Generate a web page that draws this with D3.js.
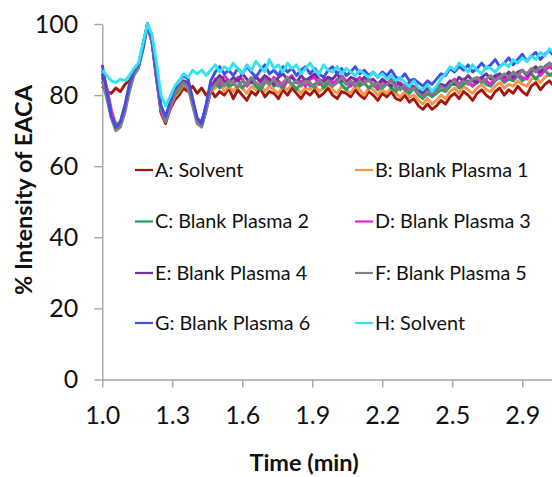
<!DOCTYPE html>
<html>
<head>
<meta charset="utf-8">
<script src="https://d3js.org/d3.v7.min.js"></script>
<style>
body { margin: 0; background: #fff; }
svg text { font-family: Lato, "Open Sans", sans-serif; fill: #111; }
.axis path, .axis line { stroke: #a6a6a6; stroke-width: 1.4; }
.axis text { font-size: 25px; }
.title { font-weight: bold; font-size: 23.5px; }
.legend text { font-size: 19.8px; }
</style>
</head>
<body>
<div id="chart"></div>
<script>
// sample times (min)
var times = [
  1.00, 1.02, 1.04, 1.06, 1.08, 1.10, 1.12, 1.14, 1.16, 1.18,
  1.20, 1.22, 1.24, 1.26, 1.28, 1.30, 1.32, 1.34, 1.36, 1.38,
  1.40, 1.42, 1.44, 1.46, 1.48, 1.50, 1.52, 1.54, 1.56, 1.58,
  1.60, 1.62, 1.64, 1.66, 1.68, 1.70, 1.72, 1.74, 1.76, 1.78,
  1.80, 1.82, 1.84, 1.86, 1.88, 1.90, 1.92, 1.94, 1.96, 1.98,
  2.00, 2.02, 2.04, 2.06, 2.08, 2.10, 2.12, 2.14, 2.16, 2.18,
  2.20, 2.22, 2.24, 2.26, 2.28, 2.30, 2.32, 2.34, 2.36, 2.38,
  2.40, 2.42, 2.44, 2.46, 2.48, 2.50, 2.52, 2.54, 2.56, 2.58,
  2.60, 2.62, 2.64, 2.66, 2.68, 2.70, 2.72, 2.74, 2.76, 2.78,
  2.80, 2.82, 2.84, 2.86, 2.88, 2.90, 2.92, 2.94, 2.96, 2.98,
  3.00
];

// x tick positions (category ticks) and their printed labels
var tickTimes = [1.0, 1.31, 1.62, 1.93, 2.24, 2.55, 2.86];
var tickLabels = ["1.0", "1.3", "1.6", "1.9", "2.2", "2.5", "2.9"];
var yTicks = [0, 20, 40, 60, 80, 100];

var seriesNames = ["A: Solvent", "B: Blank Plasma 1", "C: Blank Plasma 2", "D: Blank Plasma 3",
                   "E: Blank Plasma 4", "F: Blank Plasma 5", "G: Blank Plasma 6", "H: Solvent"];

// % intensity of EACA
var solventA = [
  82.5, 81, 80.5, 82, 81, 83, 84, 86.5, 88, 94,
  99.5, 95, 85, 75, 72, 76, 78.5, 80, 82, 81,
  82.5, 80.5, 82, 80, 81.5, 79.5, 81, 80, 82, 79,
  81.5, 80, 78.5, 81, 80, 82, 79.5, 81, 80.5, 79,
  81.5, 80, 82, 80.5, 79, 81, 80, 81.5, 79.5, 80.5,
  82, 80, 79, 81, 80.5, 79.5, 81.5, 80, 79, 81,
  80, 78.5, 80.5, 79.5, 81, 79, 78.5, 80, 78, 79,
  77, 76, 77.5, 76, 77, 78.5, 77.5, 79.5, 80.5, 79,
  81, 80, 78.5, 80.5, 81.5, 80, 79, 81, 82, 80,
  81.5, 80.5, 82.5, 81, 80, 82.5, 83.5, 81.5, 83, 84,
  82.5
];
var plasma1 = [
  86, 82, 76, 72, 72.5, 77, 83, 86.5, 88, 93.5,
  100, 95.5, 85, 76, 73, 76.5, 79.5, 81, 83, 82,
  78, 73.5, 72.5, 76, 81, 82, 83.5, 81, 82.5, 81,
  83, 82, 80.5, 82.5, 81.5, 83, 81, 82.5, 81.5, 80.5,
  82.5, 81.5, 83, 82, 80.5, 82, 81.5, 83, 81, 82,
  83, 81.5, 80.5, 82.5, 81.5, 80.5, 82.5, 81.5, 80, 82,
  81.5, 80, 81.5, 80.5, 82, 80.5, 79.5, 81, 79.5, 80,
  78.5, 77.5, 79, 77.5, 78.5, 80, 79, 81, 82, 80.5,
  82.5, 81.5, 80.5, 82, 83, 81.5, 81, 82.5, 83.5, 82,
  83, 82.5, 84, 83, 82.5, 84.5, 85, 83.5, 85, 86,
  85
];
var plasma2 = [
  85, 80.5, 75, 71.5, 72, 76.5, 82.5, 86, 88.5, 94,
  100, 96, 85.5, 76.5, 73.5, 77, 80, 81.5, 83.5, 82.5,
  78, 73, 72, 76.5, 81.5, 83.5, 82, 84, 82.5, 83,
  84.5, 82, 83.5, 84, 82.5, 81.5, 83.5, 84.5, 82.5, 83,
  82, 84, 83, 81.5, 83.5, 84.5, 82.5, 83, 84, 82,
  83.5, 82.5, 84.5, 83, 81.5, 83, 84, 82.5, 83.5, 82,
  83, 81.5, 82.5, 83.5, 82, 81, 82.5, 81.5, 80.5, 82,
  80, 79, 80.5, 79.5, 80.5, 81.5, 81, 82.5, 83.5, 82,
  83, 84, 82.5, 83.5, 84.5, 83, 82.5, 84, 85, 83.5,
  84.5, 84, 85.5, 84, 85, 86, 84.5, 86, 87, 85.5,
  86.5
];
var plasma3 = [
  87, 82, 75.5, 70.5, 71.5, 76, 82, 86, 88, 93.5,
  99.5, 95, 84.5, 75.5, 72.5, 76.5, 80.5, 82, 84, 83,
  78.5, 73, 71.5, 76, 81, 84.5, 83, 85.5, 84, 83.5,
  85, 84.5, 82.5, 84, 85.5, 83.5, 84.5, 83, 85, 84,
  82.5, 84.5, 85.5, 83.5, 84, 82.5, 84.5, 85, 83, 84.5,
  85, 83.5, 84, 85.5, 84, 82.5, 84, 85, 83.5, 84.5,
  83, 82, 84, 83, 84.5, 82.5, 83.5, 82, 81.5, 82.5,
  81, 80, 81.5, 80, 81.5, 82.5, 82, 83.5, 84.5, 83,
  84.5, 83.5, 82.5, 84.5, 85, 84, 83, 85, 85.5, 84,
  85.5, 84.5, 86, 85, 84.5, 86.5, 87.5, 85.5, 87, 88,
  87
];
var plasma4 = [
  86, 80, 74, 71, 72, 76, 82.5, 86.5, 88, 94,
  100, 95.5, 85, 76, 73, 77.5, 81, 82.5, 84, 83.5,
  78, 73, 72.5, 77, 82.5, 84, 85.5, 84, 83.5, 85,
  84, 86, 84.5, 83.5, 85, 84, 85.5, 84.5, 83, 85,
  86, 84.5, 85, 83.5, 85.5, 84, 85, 86, 84.5, 83.5,
  85, 84.5, 86, 84, 83.5, 85, 84.5, 83.5, 85, 84,
  84.5, 83, 84.5, 83.5, 82.5, 84, 83, 82.5, 83.5, 82,
  81.5, 80.5, 82, 81, 82, 83, 82.5, 84, 83, 85,
  84, 85.5, 84, 83.5, 85, 86, 84.5, 85.5, 86, 85,
  86.5, 85, 86.5, 87, 85.5, 87, 88, 86.5, 88, 89,
  88
];
var plasma5 = [
  84, 79, 73.5, 70, 71, 75, 81, 85.5, 87.5, 93,
  99.5, 95, 85, 76, 72.5, 77, 80.5, 82, 83.5, 82,
  77, 72, 71, 75.5, 81.5, 83, 84.5, 82.5, 84, 83.5,
  82, 84, 83, 85, 83.5, 82.5, 84, 83, 84.5, 82.5,
  83.5, 85, 83, 84, 82.5, 84, 83.5, 82, 84.5, 83,
  84, 82.5, 83.5, 85, 83, 84, 82.5, 84, 83, 84.5,
  82.5, 83.5, 82, 83, 84, 82, 81.5, 83, 81.5, 82,
  80.5, 79.5, 81, 80.5, 81, 82.5, 81.5, 83, 84, 82.5,
  84, 83, 84.5, 85, 83.5, 84.5, 85.5, 84, 85, 86,
  85, 86.5, 85.5, 87, 86, 87.5, 86.5, 88, 87.5, 89,
  88
];
var plasma6 = [
  88.5, 81, 74, 71, 72.5, 77, 83, 87, 88.5, 93,
  100, 96, 86, 77, 74, 78, 82, 84, 85.5, 84.5,
  79, 73.5, 72, 77.5, 84, 86.5, 88, 86, 87, 85.5,
  87.5, 86, 88, 86.5, 85, 87, 88.5, 86, 87, 85.5,
  88, 86.5, 87.5, 85.5, 87, 88, 86, 87.5, 86, 85,
  87, 88, 86, 87.5, 85.5, 86.5, 88, 86, 87, 85.5,
  86.5, 85, 86.5, 85.5, 87, 85, 84.5, 86, 84, 84.5,
  83.5, 82.5, 84, 83, 84.5, 86, 85.5, 87.5, 86.5, 88,
  87, 88.5, 86.5, 87.5, 89, 87.5, 88.5, 90, 88, 89,
  90.5, 88.5, 90, 91.5, 89.5, 91, 92, 90, 91.5, 92.5,
  91
];
var solventH = [
  87, 85.5, 84, 83.5, 84.5, 84, 85.5, 87.5, 89, 94.5,
  100, 97, 89, 80, 77, 79.5, 82.5, 84, 86, 85,
  87, 86, 87, 85.5, 87, 88.5, 86.5, 88, 87, 89,
  87.5, 86, 88.5, 87, 89.5, 88, 86.5, 90, 87.5, 88.5,
  86.5, 89, 87.5, 88.5, 86, 87.5, 89, 87, 86, 88.5,
  87, 86.5, 88, 86, 87.5, 86.5, 85.5, 87, 86, 85,
  86.5, 85, 86, 84.5, 85.5, 84, 85, 83.5, 82.5, 84,
  82, 81.5, 83, 81, 82.5, 84.5, 86, 88, 87, 89,
  88, 86.5, 88.5, 87, 86, 88, 87.5, 86.5, 88, 89,
  88, 90, 89, 90.5, 89.5, 91, 90, 92, 91, 93,
  92
];

var seriesValues = [solventA, plasma1, plasma2, plasma3, plasma4, plasma5, plasma6, solventH];
var colors = ["#a3180e", "#f79646", "#1fa05e", "#e61ee0", "#7030a0", "#808080", "#4050e6", "#30e4f4"];

(function() {
    var W = 552, H = 477;
    var plotLeft = 102.3, plotTop = 24, plotBottom = 379.5;

    var svg = d3.select("#chart").append("svg")
        .attr("width", W)
        .attr("height", H);

    // linear time scale, ticks at 1.0 -> 102.3px, 2.86 -> 522.3px
    var pxPerMin = 420 / (tickTimes[6] - tickTimes[0]);
    var x = d3.scaleLinear().domain([1.0, 3.0]).range([plotLeft, plotLeft + 2.0 * pxPerMin]);
    var y = d3.scaleLinear().domain([0, 100]).range([plotBottom, plotTop]);

    // y axis
    svg.append("g")
        .attr("class", "axis")
        .attr("transform", "translate(" + plotLeft + ",0)")
        .call(d3.axisLeft(y).tickValues(yTicks).tickSize(8).tickSizeOuter(0).tickPadding(16));

    // x axis
    svg.append("g")
        .attr("class", "axis")
        .attr("transform", "translate(0," + plotBottom + ")")
        .call(d3.axisBottom(x).tickValues(tickTimes)
            .tickFormat(function(d, i) { return tickLabels[i]; })
            .tickSize(8).tickSizeOuter(0).tickPadding(19));

    // data lines
    var line = d3.line()
        .x(function(d, i) { return x(times[i]); })
        .y(function(d) { return y(d); });

    seriesValues.forEach(function(vals, k) {
        svg.append("path")
            .datum(vals)
            .attr("d", line)
            .attr("fill", "none")
            .attr("stroke", colors[k])
            .attr("stroke-width", 2.9)
            .attr("stroke-linejoin", "round");
    });

    // legend, two columns
    var legend = svg.append("g").attr("class", "legend");
    var colX = [135, 355], rowY = [170, 221.5, 273, 323];
    seriesNames.forEach(function(name, k) {
        var lx = colX[k % 2], ly = rowY[Math.floor(k / 2)];
        legend.append("line")
            .attr("x1", lx).attr("x2", lx + 18)
            .attr("y1", ly).attr("y2", ly)
            .attr("stroke", colors[k])
            .attr("stroke-width", 2.2);
        legend.append("text")
            .attr("x", lx + 20)
            .attr("y", ly)
            .attr("dy", "0.35em")
            .text(name);
    });

    // axis titles
    svg.append("text")
        .attr("class", "title")
        .attr("x", 304)
        .attr("y", 463)
        .attr("dy", "0.35em")
        .style("text-anchor", "middle")
        .text("Time (min)");

    svg.append("text")
        .attr("class", "title")
        .attr("transform", "translate(24,190) rotate(-90)")
        .attr("dy", "0.35em")
        .style("text-anchor", "middle")
        .text("% Intensity of EACA");
})();
</script>
</body>
</html>
